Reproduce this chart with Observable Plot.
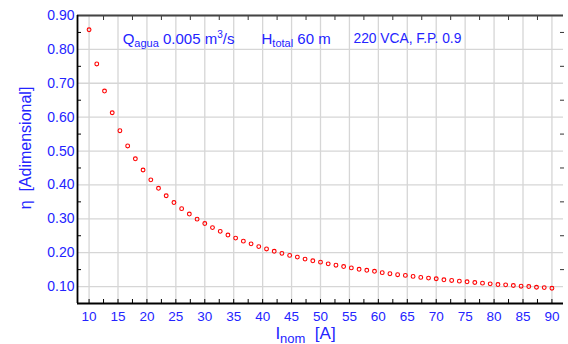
<!DOCTYPE html>
<html>
<head>
<meta charset="utf-8">
<script src="https://cdn.jsdelivr.net/npm/d3@7"></script>
<script src="https://cdn.jsdelivr.net/npm/@observablehq/plot@0.6"></script>
<style>
  html, body { margin: 0; padding: 0; background: #fff; }
</style>
</head>
<body>
<div id="chart"></div>
<script>
// Nominal current [A]
const currentA = [
  10, 11.33, 12.67, 14, 15.33, 16.67, 18, 19.33, 20.67, 22,
  23.33, 24.67, 26, 27.33, 28.67, 30, 31.33, 32.67, 34, 35.33,
  36.67, 38, 39.33, 40.67, 42, 43.33, 44.67, 46, 47.33, 48.67,
  50, 51.33, 52.67, 54, 55.33, 56.67, 58, 59.33, 60.67, 62,
  63.33, 64.67, 66, 67.33, 68.67, 70, 71.33, 72.67, 74, 75.33,
  76.67, 78, 79.33, 80.67, 82, 83.33, 84.67, 86, 87.33, 88.67,
  90
];
// Efficiency eta [dimensionless]
const efficiency = [
  0.858, 0.757, 0.677, 0.613, 0.560, 0.515, 0.477, 0.444, 0.415, 0.390,
  0.368, 0.348, 0.330, 0.314, 0.299, 0.286, 0.274, 0.263, 0.252, 0.243,
  0.234, 0.226, 0.218, 0.211, 0.204, 0.198, 0.192, 0.187, 0.181, 0.176,
  0.172, 0.167, 0.163, 0.159, 0.155, 0.151, 0.148, 0.145, 0.141, 0.138,
  0.135, 0.133, 0.130, 0.127, 0.125, 0.123, 0.120, 0.118, 0.116, 0.114,
  0.112, 0.110, 0.108, 0.106, 0.105, 0.103, 0.101, 0.100, 0.098, 0.097,
  0.095
];

const xDomain = [8, 92];
const yDomain = [0.05, 0.90];
const xTicks = [10, 15, 20, 25, 30, 35, 40, 45, 50, 55, 60, 65, 70, 75, 80, 85, 90];
const xBottomTicks = [10, 12.5, 15, 17.5, 20, 22.5, 25, 27.5, 30, 32.5, 35, 37.5, 40, 42.5, 45, 47.5, 50, 52.5, 55, 57.5, 60, 62.5, 65, 67.5, 70, 72.5, 75, 77.5, 80, 82.5, 85, 87.5, 90];
const xMinorTicks = [12.5, 17.5, 22.5, 27.5, 32.5, 37.5, 42.5, 47.5, 52.5, 57.5, 62.5, 67.5, 72.5, 77.5, 82.5, 87.5];
const yTicks = [0.10, 0.20, 0.30, 0.40, 0.50, 0.60, 0.70, 0.80, 0.90];
const yMinorTicks = [0.15, 0.25, 0.35, 0.45, 0.55, 0.65, 0.75, 0.85];

const yLabel = "η\u00a0\u00a0[Adimensional]";
const xLabelParts = [{t: "I", size: 17}, {t: "nom", size: 13, shift: 4}, {t: "\u00a0\u00a0[A]", size: 17}];
const annotations = [
  {x: 15.8, y: 0.817, parts: [{t: "Q", size: 15}, {t: "agua", size: 11, shift: 3}, {t: " 0.005 m", size: 15}, {t: "3", size: 10, shift: -6}, {t: "/s", size: 15}]},
  {x: 39.8, y: 0.817, parts: [{t: "H", size: 15}, {t: "total", size: 11, shift: 3}, {t: " 60 m", size: 15}]},
  {x: 55.7, y: 0.818, parts: [{t: "220 VCA, F.P. 0.9", size: 13.8}]}
];

const blue = "#2424ff";
const data = currentA.map((c, i) => ({current: c, eta: efficiency[i]}));
const joinParts = parts => parts.map(p => p.t).join("");

const chart = Plot.plot({
  width: 568,
  height: 344,
  marginLeft: 77,
  marginRight: 5,
  marginTop: 15,
  marginBottom: 41,
  style: {fontFamily: "'Liberation Sans', Arial, sans-serif", background: "#fff", overflow: "visible"},
  x: {domain: xDomain, axis: null},
  y: {domain: yDomain, axis: null},
  marks: [
    Plot.gridX(xTicks, {stroke: "#d6d6d6", strokeOpacity: 1, strokeWidth: 1.3}),
    Plot.gridY(yTicks, {stroke: "#d6d6d6", strokeOpacity: 1, strokeWidth: 1.3}),
    // inward ticks
    Plot.axisX(xBottomTicks, {anchor: "bottom", tickSize: 4, dy: -4, tickFormat: () => "", label: null, stroke: "#000"}),
    Plot.axisX(xMinorTicks, {anchor: "top", tickSize: 4, dy: 4, tickFormat: () => "", label: null, stroke: "#333"}),
    Plot.axisY(yMinorTicks, {anchor: "left", tickSize: 4, dx: 4, tickFormat: () => "", label: null, stroke: "#000"}),
    Plot.axisY(yMinorTicks, {anchor: "right", tickSize: 4, dx: -4, tickFormat: () => "", label: null, stroke: "#333"}),
    // tick labels
    Plot.axisX(xTicks, {anchor: "bottom", tickSize: 0, tickPadding: 8, label: null, fill: blue, fontSize: 13.5, tickFormat: d3.format("d")}),
    Plot.axisY(yTicks, {anchor: "left", tickSize: 0, tickPadding: 3, label: null, fill: blue, fontSize: 14, tickFormat: d3.format(".2f")}),
    // frame lines
    Plot.ruleY([yDomain[1]], {stroke: "#444", strokeWidth: 1.8}),
    Plot.ruleX([xDomain[0]], {stroke: "#000", strokeWidth: 1.8}),
    Plot.ruleY([yDomain[0]], {stroke: "#000", strokeWidth: 1.8}),
    // data
    Plot.dot(data, {x: "current", y: "eta", r: 1.9, stroke: "#ff0000", strokeWidth: 1.1, fill: "none"}),
    // annotations
    Plot.text(annotations, {x: "x", y: "y", text: d => joinParts(d.parts), textAnchor: "start", lineAnchor: "bottom", fill: blue, fontSize: 15}),
    // axis labels
    Plot.text([yLabel], {frameAnchor: "left", textAnchor: "middle", rotate: -90, dx: -47, dy: -11.5, lineAnchor: "bottom", fill: blue, fontSize: 16}),
    Plot.text([joinParts(xLabelParts)], {frameAnchor: "bottom", textAnchor: "middle", dx: -15, dy: 35, lineAnchor: "bottom", fill: blue, fontSize: 17})
  ]
});

document.getElementById("chart").appendChild(chart);

// rich text (subscripts / superscripts)
const richSpecs = annotations.map(a => a.parts).concat([xLabelParts]);
const svgEl = chart.tagName.toLowerCase() === "svg" ? chart : chart.querySelector("svg");
d3.select(svgEl).selectAll("text").each(function () {
  const content = this.textContent;
  const parts = richSpecs.find(p => joinParts(p) === content);
  if (!parts) return;
  const el = d3.select(this);
  el.text(null);
  let cur = 0;
  parts.forEach(p => {
    const ts = el.append("tspan").text(p.t).attr("font-size", p.size);
    const shift = p.shift || 0;
    if (shift !== cur) { ts.attr("dy", shift - cur); cur = shift; }
  });
});
</script>
</body>
</html>
